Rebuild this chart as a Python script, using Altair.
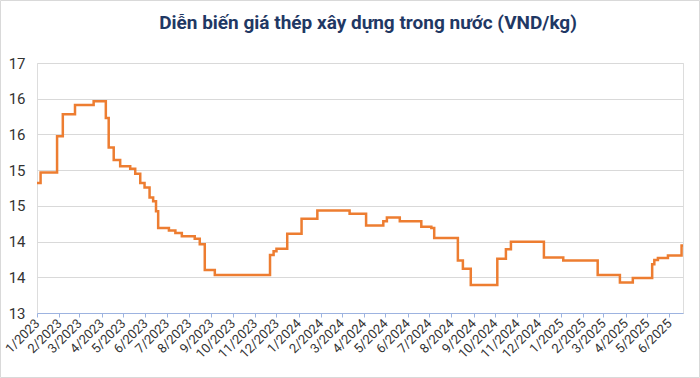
import altair as alt
import pandas as pd

# Step-change dates and prices (thousand VND/kg)
dates = [
    "2023-01-01", "2023-01-06", "2023-01-29", "2023-02-06", "2023-02-23",
    "2023-03-21", "2023-04-07", "2023-04-11", "2023-04-18", "2023-04-27",
    "2023-05-11", "2023-05-18", "2023-05-25", "2023-05-31", "2023-06-07",
    "2023-06-12", "2023-06-16", "2023-06-19", "2023-07-04", "2023-07-13",
    "2023-07-22", "2023-08-09", "2023-08-16", "2023-08-23", "2023-09-06",
    "2023-11-22", "2023-11-27", "2023-12-01", "2023-12-16", "2024-01-05",
    "2024-01-27", "2024-03-12", "2024-04-04", "2024-04-28", "2024-05-03",
    "2024-05-21", "2024-06-20", "2024-07-04", "2024-07-08", "2024-08-10",
    "2024-08-17", "2024-08-28", "2024-10-04", "2024-10-16", "2024-10-23",
    "2024-12-08", "2025-01-04", "2025-02-21", "2025-03-24", "2025-04-11",
    "2025-05-08", "2025-05-11", "2025-05-16", "2025-05-30", "2025-06-18",
    "2025-06-20",
]
prices = [
    15.08, 15.25, 15.83, 16.18, 16.33,
    16.39, 16.12, 15.65, 15.45, 15.35,
    15.31, 15.23, 15.08, 15.01, 14.85,
    14.79, 14.63, 14.36, 14.32, 14.28,
    14.23, 14.19, 14.10, 13.69, 13.61,
    13.93, 13.99, 14.03, 14.27, 14.51,
    14.64, 14.59, 14.40, 14.47, 14.53,
    14.47, 14.38, 14.36, 14.20, 13.84,
    13.71, 13.45, 13.87, 14.02, 14.14,
    13.89, 13.84, 13.61, 13.49, 13.56,
    13.78, 13.85, 13.88, 13.92, 14.08,
    14.08,
]
y_ticks = [13 + k * 4 / 7 for k in range(8)]
title_text = "Diễn biến giá thép xây dựng trong nước (VND/kg)"

df = pd.DataFrame({"date": [d + "T00:00:00" for d in dates], "price": prices})

line = alt.Chart(df).mark_line(
    interpolate="step-after", color="#ED7D31", strokeWidth=2.5
).encode(
    x=alt.X(
        "date:T",
        title=None,
        scale=alt.Scale(
            domain=[alt.DateTime(year=2023, month=1, date=1),
                    alt.DateTime(year=2025, month=6, date=20)],
            nice=False,
        ),
        axis=alt.Axis(
            tickCount={"interval": "month", "step": 1},
            format="%-m/%Y",
            labelAngle=-45,
            labelAlign="right",
            labelBaseline="middle",
            labelPadding=4,
            labelOverlap=False,
            labelFont="Roboto",
            labelFontSize=13,
            labelColor="#333333",
            grid=False,
            domainColor="#9DB3E0",
            tickColor="#9DB3E0",
            tickSize=4,
        ),
    ),
    y=alt.Y(
        "price:Q",
        title=None,
        scale=alt.Scale(domain=[13, 17], nice=False, zero=False),
        axis=alt.Axis(
            values=y_ticks,
            format=".0f",
            domain=False,
            ticks=False,
            labelPadding=12,
            labelFont="Roboto",
            labelFontSize=15,
            labelColor="#333333",
            gridColor="#D9D9D9",
            gridWidth=1,
        ),
    ),
)

one_row = alt.Data(values=[{"t": title_text}])

frame = alt.Chart(one_row).mark_rect(
    fill=None, stroke="#D9D9D9", strokeWidth=1
).encode(
    x=alt.value(-36.5), x2=alt.value(662.5), y=alt.value(-62.5), y2=alt.value(314.5)
)

title = alt.Chart(one_row).mark_text(
    font="Roboto", fontSize=19, fontWeight="bold", color="#1F3864",
    align="center", baseline="middle"
).encode(
    x=alt.value(331), y=alt.value(-40), text="t:N"
)

chart = alt.layer(line, frame, title).properties(
    width=646,
    height=250,
    autosize=alt.AutoSizeParams(type="none"),
    padding={"left": 37, "top": 63, "right": 17, "bottom": 65},
).configure_view(stroke=None).configure(background="white")

chart.save("out.html", embed_options={"renderer": "svg", "actions": False})
